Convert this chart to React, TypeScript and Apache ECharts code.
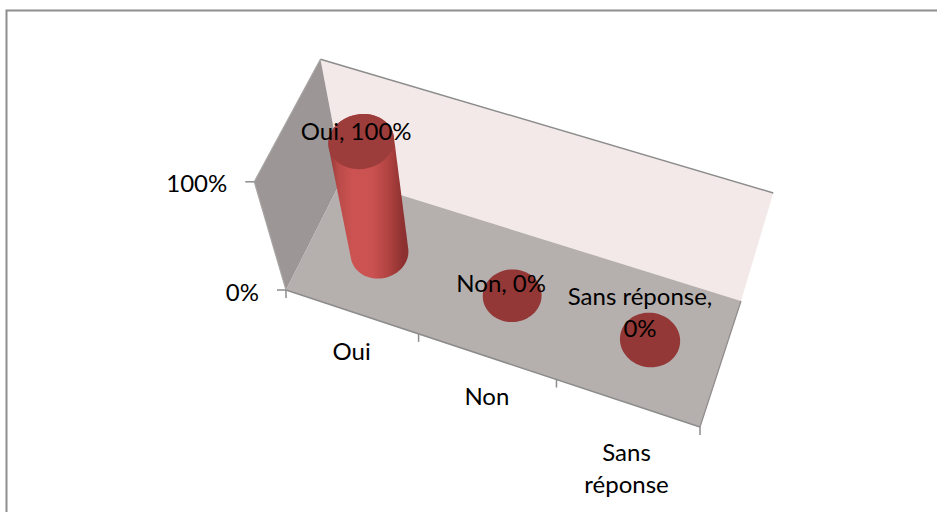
import React, { useEffect, useRef } from "react";
import * as echarts from "echarts";

const categories = ["Oui", "Non", "Sans réponse"];
const categoryAxisLabels = ["Oui", "Non", "Sans\nréponse"];
const values = [1, 0, 0];
const valueTicks = [0, 1];
const valueTickLabels = ["0%", "100%"];
const dataLabels = ["Oui, 100%", "Non, 0%", "Sans réponse,\n0%"];

// Layout of the tilted box (pixels of the corners of the 3D frame)
const FLOOR = [[286, 290], [700, 427], [741, 301], [343, 177]];
const TOP_ANCHORS = [
  { u: 0, v: 0, p: [255, 182] },
  { u: 0, v: 1, p: [320, 58] },
  { u: 1, v: 1, p: [773, 194] },
];
const FONT = "Lato";
const FONT_SIZE = 24;
const LINE_H = 32;
const RU = 0.068;
const RV = 0.208;
const labelOffsets = [[-5, -11], [-11, -13], [-10, -28]];
const axisLabelOffsets = [[0, 39], [0, 39], [-1, 64]];

function homography() {
  const [[x0, y0], [x1, y1], [x2, y2], [x3, y3]] = FLOOR;
  const dx1 = x1 - x2, dx2 = x3 - x2, sx = x0 - x1 + x2 - x3;
  const dy1 = y1 - y2, dy2 = y3 - y2, sy = y0 - y1 + y2 - y3;
  const det = dx1 * dy2 - dx2 * dy1;
  const g = (sx * dy2 - dx2 * sy) / det;
  const h = (dx1 * sy - sx * dy1) / det;
  return {
    a: x1 - x0 + g * x1, b: x3 - x0 + h * x3, c: x0,
    d: y1 - y0 + g * y1, e: y3 - y0 + h * y3, f: y0,
    g, h,
  };
}
const H = homography();
const hx = (u: number, v: number) => H.a * u + H.b * v + H.c;
const hy = (u: number, v: number) => H.d * u + H.e * v + H.f;
const hw = (u: number, v: number) => H.g * u + H.h * v + 1;

function solveHeight() {
  // least squares for the third column of the projection
  const rows: number[][] = [];
  for (const t of TOP_ANCHORS) {
    const w = hw(t.u, t.v);
    rows.push([1, 0, -t.p[0], t.p[0] * w - hx(t.u, t.v)]);
    rows.push([0, 1, -t.p[1], t.p[1] * w - hy(t.u, t.v)]);
  }
  const A = [0, 1, 2].map((i) =>
    [0, 1, 2, 3].map((j) => rows.reduce((s, r) => s + r[i] * r[j], 0))
  );
  for (let i = 0; i < 3; i++) {
    for (let k = 0; k < 3; k++) {
      if (k === i) continue;
      const m = A[k][i] / A[i][i];
      for (let j = i; j < 4; j++) A[k][j] -= m * A[i][j];
    }
  }
  return [A[0][3] / A[0][0], A[1][3] / A[1][1], A[2][3] / A[2][2]];
}
const C3 = solveHeight();

function project(u: number, v: number, z: number): number[] {
  const w = hw(u, v) + C3[2] * z;
  return [(hx(u, v) + C3[0] * z) / w, (hy(u, v) + C3[1] * z) / w];
}

function circle(u: number, z: number) {
  const pts: number[][] = [];
  for (let i = 0; i < 72; i++) {
    const t = (i / 72) * Math.PI * 2;
    pts.push(project(u + RU * Math.cos(t), 0.5 + RV * Math.sin(t), z));
  }
  return pts;
}

function hull(points: number[][]) {
  const p = [...points].sort((a, b) => a[0] - b[0] || a[1] - b[1]);
  const cross = (o: number[], a: number[], b: number[]) =>
    (a[0] - o[0]) * (b[1] - o[1]) - (a[1] - o[1]) * (b[0] - o[0]);
  const lo: number[][] = [];
  for (const q of p) {
    while (lo.length > 1 && cross(lo[lo.length - 2], lo[lo.length - 1], q) <= 0) lo.pop();
    lo.push(q);
  }
  const up: number[][] = [];
  for (const q of p.reverse()) {
    while (up.length > 1 && cross(up[up.length - 2], up[up.length - 1], q) <= 0) up.pop();
    up.push(q);
  }
  return lo.slice(0, -1).concat(up.slice(0, -1));
}

const EDGE = "#8c8c8c";
const TEXT = "#000000";

function normalise(api: any, params: any, i: number) {
  const c = api.coord([api.value(0), api.value(1)]);
  const sys = params.coordSys;
  return {
    u: (c[0] - sys.x) / sys.width,
    z: 1 - (c[1] - sys.y) / sys.height,
    i,
  };
}

function renderCylinder(params: any, api: any) {
  const { u, z } = normalise(api, params, params.dataIndex);
  const base = circle(u, 0);
  const children: any[] = [];
  if (z > 0) {
    const top = circle(u, z);
    children.push({
      type: "polygon",
      shape: { points: hull(base.concat(top)) },
      style: {
        fill: new echarts.graphic.LinearGradient(0, 0, 1, 0, [
          { offset: 0, color: "#8f3533" },
          { offset: 0.12, color: "#b94a48" },
          { offset: 0.3, color: "#cc5351" },
          { offset: 0.55, color: "#ca5250" },
          { offset: 0.75, color: "#b04341" },
          { offset: 0.93, color: "#8e3130" },
          { offset: 1, color: "#8a3130" },
        ]),
      },
    });
    children.push({
      type: "polygon",
      shape: { points: top },
      style: { fill: "#9c3d3b" },
    });
  } else {
    children.push({
      type: "polygon",
      shape: { points: base },
      style: { fill: "#933836" },
    });
  }
  return { type: "group", children };
}

function renderLabel(params: any, api: any) {
  const { u, z } = normalise(api, params, params.dataIndex);
  const p = project(u, 0.5, z);
  const off = labelOffsets[params.dataIndex];
  return {
    type: "text",
    x: p[0] + off[0],
    y: p[1] + off[1],
    style: {
      text: dataLabels[params.dataIndex],
      fontFamily: FONT,
      fontSize: FONT_SIZE,
      lineHeight: LINE_H,
      fill: TEXT,
      align: "center",
      verticalAlign: "middle",
    },
  };
}

function seg(a: number[], b: number[], color = EDGE, width = 1.5) {
  return {
    type: "line",
    shape: { x1: a[0], y1: a[1], x2: b[0], y2: b[1] },
    style: { stroke: color, lineWidth: width },
  };
}

function frame() {
  const f00 = project(0, 0, 0), f10 = project(1, 0, 0), f11 = project(1, 1, 0), f01 = project(0, 1, 0);
  const t00 = project(0, 0, 1), t01 = project(0, 1, 1), t11 = project(1, 1, 1);
  const els: any[] = [
    {
      type: "polyline",
      shape: { points: [[6.5, 512], [6.5, 10.5], [937, 10.5]] },
      style: { stroke: "#8e8e8e", lineWidth: 2, fill: "none" },
    },
    { type: "polygon", shape: { points: [f01, f11, t11, t01] }, style: { fill: "#f3e9e9" } },
    { type: "polygon", shape: { points: [f00, f01, t01, t00] }, style: { fill: "#9c9696" } },
    { type: "polygon", shape: { points: [f00, f10, f11, f01] }, style: { fill: "#b5afae" } },
    seg(t01, t11),
    seg(f00, f10),
    seg(f10, f11, "#8f8b8b", 1.2),
    seg(t00, f00, "#a9a5a5", 1.2),
    seg(t00, t01, "#a9a5a5", 1.2),
  ];
  valueTicks.forEach((val, i) => {
    const p = project(0, 0, val);
    els.push(seg([p[0] - 9, p[1]], p));
    els.push({
      type: "text",
      x: p[0] - 27,
      y: p[1] + 1,
      style: {
        text: valueTickLabels[i],
        fontFamily: FONT,
        fontSize: FONT_SIZE,
        fill: TEXT,
        align: "right",
        verticalAlign: "middle",
      },
    });
  });
  for (let i = 0; i <= categories.length; i++) {
    const p = project(i / categories.length, 0, 0);
    els.push(seg(p, [p[0], p[1] + 8]));
  }
  categoryAxisLabels.forEach((t, i) => {
    const p = project((i + 0.5) / categories.length, 0, 0);
    const off = axisLabelOffsets[i];
    els.push({
      type: "text",
      x: p[0] + off[0],
      y: p[1] + off[1],
      style: {
        text: t,
        fontFamily: FONT,
        fontSize: FONT_SIZE,
        lineHeight: LINE_H,
        fill: TEXT,
        align: "center",
        verticalAlign: "middle",
      },
    });
  });
  return els;
}

export default function App() {
  const ref = useRef<HTMLDivElement>(null);
  useEffect(() => {
    document.body.style.margin = "0";
    const chart = echarts.init(ref.current!, null, { renderer: "svg" });
    const seriesData = values.map((v, i) => [i, v]);
    chart.setOption({
      animation: false,
      backgroundColor: "#ffffff",
      grid: { left: 100, top: 100, width: 300, height: 300 },
      xAxis: { type: "category", data: categories, show: false },
      yAxis: { type: "value", min: 0, max: 1, show: false },
      graphic: { elements: frame().map((e) => ({ ...e, z: 0 })) },
      series: [
        {
          type: "custom",
          coordinateSystem: "cartesian2d",
          data: seriesData,
          encode: { x: 0, y: 1 },
          renderItem: renderCylinder,
          z: 5,
          clip: false,
        },
        {
          type: "custom",
          coordinateSystem: "cartesian2d",
          data: seriesData,
          encode: { x: 0, y: 1 },
          renderItem: renderLabel,
          z: 6,
          clip: false,
        },
      ],
    });
    return () => chart.dispose();
  }, []);
  return <div ref={ref} style={{ width: 937, height: 512 }} />;
}
